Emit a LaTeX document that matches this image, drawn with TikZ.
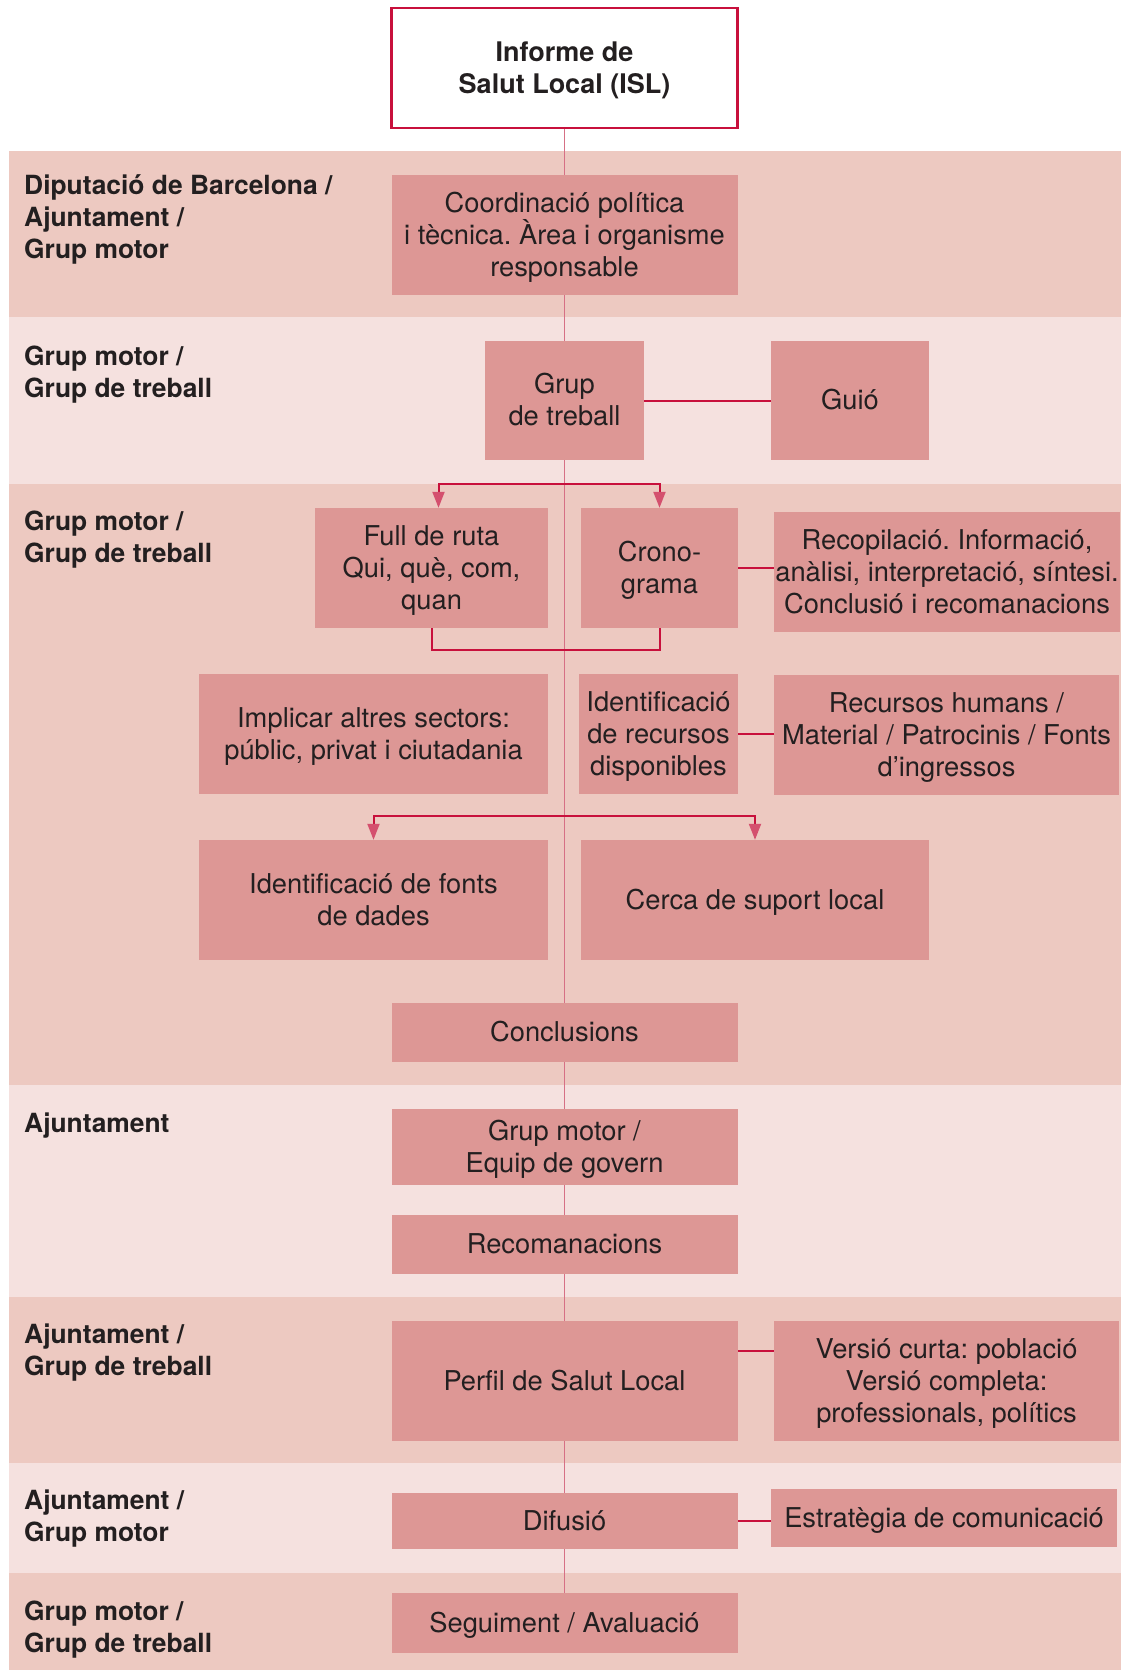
\documentclass[tikz,border=0pt]{standalone}
\usepackage{fontspec}
\setmainfont{TeX Gyre Heros}
\usetikzlibrary{arrows.meta}
\definecolor{banddark}{RGB}{237,201,193}
\definecolor{bandlight}{RGB}{245,225,223}
\definecolor{boxfill}{RGB}{221,151,149}
\definecolor{vline}{RGB}{214,112,133}
\definecolor{crim}{RGB}{200,16,60}
\definecolor{arrowc}{RGB}{212,80,110}
\definecolor{txt}{RGB}{35,31,32}
\pgfdeclarelayer{bg}
\pgfdeclarelayer{lines}
\pgfsetlayers{bg,lines,main}
\frenchspacing
\newcommand\boxtop{\rule{0pt}{26pt}}
\newcommand\boxbot{\rule[-8pt]{0pt}{8pt}}
\begin{document}
\begin{tikzpicture}[x=1pt,y=-1pt,
  box/.style={fill=boxfill, inner sep=0pt, align=center, text=txt, font=\frenchspacing\fontsize{27.3}{32}\selectfont},
  lbl/.style={anchor=north west, inner sep=0pt, align=left, text=txt, font=\bfseries\fontsize{26.4}{32}\selectfont},
  vconn/.style={draw=vline, line width=1.5pt},
  conn/.style={draw=crim, line width=2pt},
  fork/.style={draw=crim, line width=2pt, -{Triangle[length=16pt,width=12pt,color=arrowc]}},
]
\useasboundingbox (0,0) rectangle (1121,1670);
\begin{pgfonlayer}{bg}
\fill[white] (0,0) rectangle (1121,1670);
\fill[banddark] (9,151) rectangle (1121,317);
\fill[bandlight] (9,317) rectangle (1121,484);
\fill[banddark] (9,484) rectangle (1121,1085);
\fill[bandlight] (9,1085) rectangle (1121,1297);
\fill[banddark] (9,1297) rectangle (1121,1463);
\fill[bandlight] (9,1463) rectangle (1121,1573);
\fill[banddark] (9,1573) rectangle (1121,1670);
\end{pgfonlayer}

% lane labels
\node[lbl] (l1) at (24,171.5) {\strut Diputació de Barcelona /\\Ajuntament /\\Grup motor};
\node[lbl] (l2) at (24,343) {\strut Grup motor /\\Grup de treball};
\node[lbl] (l3) at (24,507.5) {\strut Grup motor /\\Grup de treball};
\node[lbl] (l4) at (24,1110) {\strut Ajuntament};
\node[lbl] (l5) at (24,1321) {\strut Ajuntament /\\Grup de treball};
\node[lbl] (l6) at (24,1487) {\strut Ajuntament /\\Grup motor};
\node[lbl] (l7) at (24,1598) {\strut Grup motor /\\Grup de treball};

% boxes
\node[box, fill=white, draw=crim, line width=2.5pt, font=\bfseries\fontsize{27}{32}\selectfont, minimum width=346pt, minimum height=120pt] (isl) at (564.5,68) {\boxtop Informe de\\Salut Local (ISL)\boxbot};
\node[box, minimum width=346pt, minimum height=120pt] (coord) at (564.5,235) {\boxtop Coordinació política\\i tècnica. Àrea i organisme\\responsable\boxbot};
\node[box, minimum width=159pt, minimum height=119pt] (gdt) at (564.5,400.5) {\boxtop Grup\\de treball\boxbot};
\node[box, minimum width=158pt, minimum height=119pt] (guio) at (850,400.5) {\boxtop Guió\boxbot};
\node[box, minimum width=233pt, minimum height=120pt] (full) at (431.5,568) {\boxtop Full de ruta\\Qui, què, com,\\quan\boxbot};
\node[box, minimum width=157pt, minimum height=120pt] (crono) at (659.5,568) {\boxtop Crono-\\grama\boxbot};
\node[box, minimum width=346pt, minimum height=120pt] (recop) at (947,572) {\boxtop Recopilació. Informació,\\anàlisi, interpretació, síntesi.\\Conclusió i recomanacions\boxbot};
\node[box, minimum width=349pt, minimum height=120pt] (impl) at (373.5,734) {\boxtop Implicar altres sectors:\\públic, privat i ciutadania\boxbot};
\node[box, minimum width=159pt, minimum height=120pt] (ident) at (658.5,734) {\boxtop Identificació\\de recursos\\disponibles\boxbot};
\node[box, minimum width=345pt, minimum height=120pt] (recur) at (946.5,735) {\boxtop Recursos humans /\\Material / Patrocinis / Fonts\\d’ingressos\boxbot};
\node[box, minimum width=349pt, minimum height=120pt] (fonts) at (373.5,900) {\boxtop Identificació de fonts\\de dades\boxbot};
\node[box, minimum width=348pt, minimum height=120pt] (cerca) at (755,900) {\boxtop Cerca de suport local\boxbot};
\node[box, minimum width=346pt, minimum height=59pt] (concl) at (564.5,1032.5) {\boxtop Conclusions\boxbot};
\node[box, minimum width=346pt, minimum height=76pt] (gme) at (564.5,1147) {\boxtop Grup motor /\\Equip de govern\boxbot};
\node[box, minimum width=346pt, minimum height=59pt] (recom) at (564.5,1244.5) {\boxtop Recomanacions\boxbot};
\node[box, minimum width=346pt, minimum height=120pt] (perfil) at (564.5,1381) {\boxtop Perfil de Salut Local\boxbot};
\node[box, minimum width=345pt, minimum height=120pt] (versio) at (946.5,1381) {\boxtop Versió curta: població\\Versió completa:\\professionals, polítics\boxbot};
\node[box, minimum width=346pt, minimum height=56pt] (difusio) at (564.5,1521) {\boxtop Difusió\boxbot};
\node[box, minimum width=346pt, minimum height=58pt] (estrat) at (944,1518) {\boxtop Estratègia de comunicació\boxbot};
\node[box, minimum width=346pt, minimum height=60pt] (segu) at (564.5,1623) {\boxtop Seguiment / Avaluació\boxbot};

\coordinate (fk1) at (564.5,484);
\coordinate (fk2) at (564.5,816);

\begin{pgfonlayer}{lines}
% main spine
\draw[vconn] (isl.south) -- (coord.north);
\draw[vconn] (coord.south) -- (gdt.north);
\draw[vconn] (gdt.south) -- (concl.north);
\draw[vconn] (concl.south) -- (gme.north);
\draw[vconn] (gme.south) -- (recom.north);
\draw[vconn] (recom.south) -- (perfil.north);
\draw[vconn] (perfil.south) -- (difusio.north);
\draw[vconn] (difusio.south) -- (segu.north);
% side links
\draw[conn] (gdt.east) -- (guio.west);
\draw[conn] (crono.east) -- (crono.east -| recop.west);
\draw[conn] (ident.east) -- (ident.east -| recur.west);
\draw[conn] ([yshift=30pt]perfil.east) -- ([yshift=30pt]perfil.east -| versio.west);
\draw[conn] (difusio.east) -- (difusio.east -| estrat.west);
% forks
\draw[fork] (fk1) -| ([xshift=7pt]full.north);
\draw[fork] (fk1) -| (crono.north);
\draw[conn] (full.south) -- ++(0,22) -| (crono.south);
\draw[fork] (fk2) -| (fonts.north);
\draw[fork] (fk2) -| (cerca.north);
\end{pgfonlayer}
\end{tikzpicture}
\end{document}
